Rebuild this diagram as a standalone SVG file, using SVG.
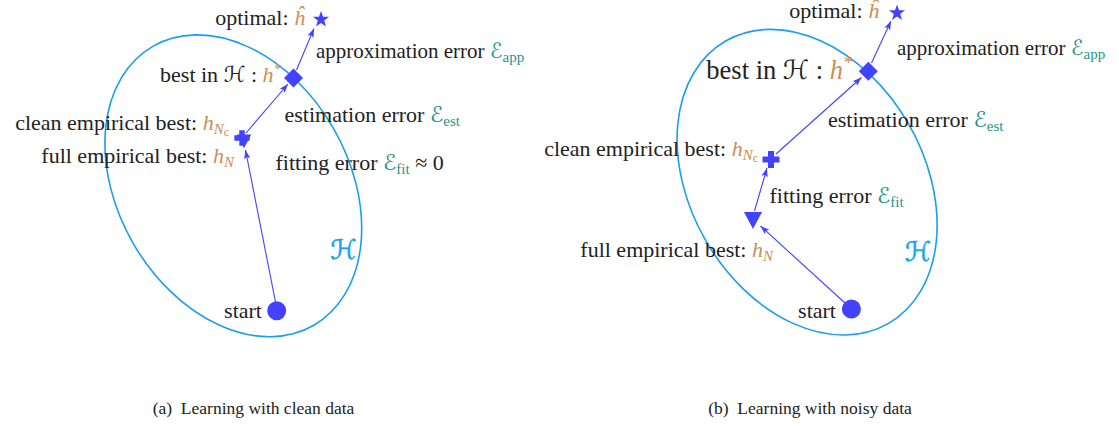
<svg xmlns="http://www.w3.org/2000/svg" width="1119" height="426" viewBox="0 0 1119 426">
<style>
text{font-family:"Liberation Serif","Times New Roman",serif;font-size:22px;fill:#222}
.big{font-size:26.5px}
.sm{font-size:21px}
.h{fill:#C98E55;font-style:italic}
.e{fill:#24958C;font-family:"DejaVu Sans","DejaVu Serif",sans-serif;font-style:italic}
.es{fill:#24958C;font-size:15px}
.cal{font-family:"DejaVu Sans","DejaVu Serif",sans-serif;font-style:italic}
.H{fill:#1AA3EC;font-family:"DejaVu Sans","DejaVu Serif",sans-serif;font-style:italic;font-size:27px;stroke:#1AA3EC;stroke-width:0.5}
.cap{font-size:17.5px;fill:#222;white-space:pre}
.ell{fill:none;stroke:#1A9EEC;stroke-width:1.6}
.mk{fill:#4242FF}
.conn line{stroke:#4242FF;stroke-width:1.1;marker-end:url(#arr)}
</style>
<defs>
<marker id="arr" markerUnits="userSpaceOnUse" markerWidth="10" markerHeight="7" refX="9" refY="3.5" orient="auto">
<path d="M0,0.3 L9,3.5 L0,6.7 L2,3.5 z" fill="#4242FF"/>
</marker>
<polygon id="star" points="0,-8.5 2,-2.75 8.08,-2.63 3.23,1.05 5,6.88 0,3.4 -5,6.88 -3.23,1.05 -8.08,-2.63 -2,-2.75"/>
<polygon id="diamond" points="0,-9.5 9.5,0 0,9.5 -9.5,0"/>
<polygon id="plus" points="-3,-8.5 3,-8.5 3,-3 8.5,-3 8.5,3 3,3 3,8.5 -3,8.5 -3,3 -8.5,3 -8.5,-3 -3,-3"/>
<polygon id="tri" points="-9,-8 9,-8 0,9"/>
</defs>

<!-- ===== Panel (a) ===== -->
<g id="a-space">
<ellipse class="ell" cx="233.3" cy="185.8" rx="161" ry="115.5" transform="rotate(60 233.3 185.8)"/>
<text class="H" x="330" y="259">ℋ</text>
</g>
<g id="a-conn" class="conn">
<line x1="275.5" y1="302" x2="245.5" y2="150"/>
<line x1="246" y1="133" x2="288" y2="84"/>
<line x1="296.5" y1="70" x2="314" y2="28.5"/>
</g>
<g id="a-optimal">
<use href="#star" class="mk" transform="translate(321,19.5)"/>
<text x="305" y="25" text-anchor="end">optimal: <tspan class="h">ĥ</tspan></text>
</g>
<g id="a-best">
<use href="#diamond" class="mk" transform="translate(293.5,78)"/>
<text x="281" y="81.5" text-anchor="end">best in <tspan class="cal">ℋ</tspan> : <tspan class="h">h</tspan><tspan class="h" font-size="15" dy="-8" font-style="normal">*</tspan></text>
</g>
<g id="a-full">
<use href="#tri" class="mk" transform="translate(244,141) scale(0.8)"/>
<text x="234" y="163" text-anchor="end">full empirical best: <tspan class="h">h</tspan><tspan class="h" font-size="15" dy="4">N</tspan></text>
</g>
<g id="a-clean">
<use href="#plus" class="mk" transform="translate(242,138) scale(0.9)"/>
<text x="229" y="130" text-anchor="end">clean empirical best: <tspan class="h">h</tspan><tspan class="h" font-size="15" dy="4">N</tspan><tspan fill="#C98E55" font-size="12" dy="2">c</tspan></text>
</g>
<g id="a-start">
<circle class="mk" cx="276.7" cy="310.7" r="9.5"/>
<text x="262" y="318.3" text-anchor="end">start</text>
</g>
<g id="a-labels">
<text class="sm" x="316" y="58">approximation error <tspan class="e">ℰ</tspan><tspan class="es" dy="4">app</tspan></text>
<text x="284.5" y="121.5">estimation error <tspan class="e">ℰ</tspan><tspan class="es" dy="4">est</tspan></text>
<text x="275.5" y="170">fitting error <tspan class="e">ℰ</tspan><tspan class="es" dy="4">fit</tspan><tspan dy="-4"> ≈ 0</tspan></text>
</g>
<text class="cap" x="253.5" y="414" text-anchor="middle">(a)  Learning with clean data</text>

<!-- ===== Panel (b) ===== -->
<g id="b-space">
<ellipse class="ell" cx="807.1" cy="182.2" rx="163" ry="117" transform="rotate(60 807.1 182.2)"/>
<text class="H" x="904.5" y="260.5">ℋ</text>
</g>
<g id="b-conn" class="conn">
<line x1="845" y1="303" x2="760.5" y2="226"/>
<line x1="754.5" y1="211" x2="767" y2="168"/>
<line x1="776" y1="154" x2="861.5" y2="77.5"/>
<line x1="871.5" y1="63" x2="891" y2="21"/>
</g>
<g id="b-optimal">
<use href="#star" class="mk" transform="translate(897,13)"/>
<text x="879" y="18" text-anchor="end">optimal: <tspan class="h">ĥ</tspan></text>
</g>
<g id="b-best">
<use href="#diamond" class="mk" transform="translate(868.3,71.3)"/>
<text class="big" x="852" y="79" text-anchor="end">best in <tspan class="cal">ℋ</tspan> : <tspan class="h">h</tspan><tspan class="h" font-size="18" dy="-10" font-style="normal">*</tspan></text>
</g>
<g id="b-clean">
<use href="#plus" class="mk" transform="translate(771,159.5)"/>
<text x="758" y="155.7" text-anchor="end">clean empirical best: <tspan class="h">h</tspan><tspan class="h" font-size="15" dy="4">N</tspan><tspan fill="#C98E55" font-size="12" dy="2">c</tspan></text>
</g>
<g id="b-full">
<use href="#tri" class="mk" transform="translate(753,220)"/>
<text x="773" y="256.7" text-anchor="end">full empirical best: <tspan class="h">h</tspan><tspan class="h" font-size="15" dy="4">N</tspan></text>
</g>
<g id="b-start">
<circle class="mk" cx="851.4" cy="309" r="9.5"/>
<text x="836" y="318.3" text-anchor="end">start</text>
</g>
<g id="b-labels">
<text class="sm" x="897" y="55">approximation error <tspan class="e">ℰ</tspan><tspan class="es" dy="4">app</tspan></text>
<text x="828" y="126.7">estimation error <tspan class="e">ℰ</tspan><tspan class="es" dy="4">est</tspan></text>
<text x="769.5" y="203.3">fitting error <tspan class="e">ℰ</tspan><tspan class="es" dy="4">fit</tspan></text>
</g>
<text class="cap" x="810" y="414" text-anchor="middle">(b)  Learning with noisy data</text>
</svg>
